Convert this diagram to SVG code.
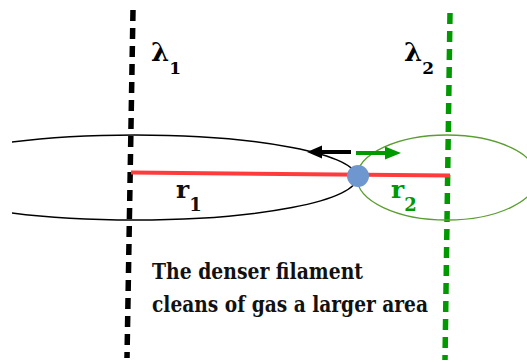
<svg xmlns="http://www.w3.org/2000/svg" width="527" height="362" viewBox="0 0 527 362">
<style>
.lbl{font-family:"DejaVu Serif","Liberation Serif",serif;font-weight:bold}
.cap{font-family:"DejaVu Serif","Liberation Serif",serif;font-weight:bold;font-size:22px;fill:#111}
</style>
<defs>
<clipPath id="cl"><rect x="12" y="0" width="515" height="362"/></clipPath>
</defs>
<rect width="527" height="362" fill="#fff"/>
<g id="filament1">
<line x1="133" y1="10" x2="127" y2="358" stroke="#000" stroke-width="5.5" stroke-dasharray="11 7"/>
<text class="lbl" x="151" y="61" font-size="26">λ<tspan font-size="17" dy="13">1</tspan></text>
</g>
<g id="filament2">
<line x1="450" y1="13" x2="445" y2="360" stroke="#009900" stroke-width="5.5" stroke-dasharray="11 7"/>
<text class="lbl" x="404" y="61" font-size="26">λ<tspan font-size="17" dy="13">2</tspan></text>
</g>
<g id="ellipse1">
<ellipse cx="135" cy="177.5" rx="222" ry="42.5" fill="none" stroke="#000" stroke-width="1.4" clip-path="url(#cl)"/>
</g>
<g id="ellipse2">
<ellipse cx="447" cy="177.5" rx="90" ry="42.5" fill="none" stroke="#5a9e2f" stroke-width="1.3"/>
</g>
<g id="connectors">
<line x1="131" y1="172.5" x2="450" y2="175.5" stroke="#ff3b3b" stroke-width="4"/>
<line x1="351" y1="152" x2="320" y2="152" stroke="#000" stroke-width="4"/>
<polygon points="307,152 322,145.5 322,158.5" fill="#000"/>
<line x1="356" y1="153" x2="387" y2="153" stroke="#009900" stroke-width="4"/>
<polygon points="401,153 385,146.5 385,159.5" fill="#009900"/>
</g>
<g id="particle">
<circle cx="358" cy="176" r="11" fill="#6f97cf"/>
</g>
<g id="r1">
<text class="lbl" x="176" y="198" font-size="25" fill="#111">r<tspan font-size="18" dy="13">1</tspan></text>
</g>
<g id="r2">
<text class="lbl" x="391" y="198" font-size="25" fill="#009900">r<tspan font-size="18" dy="13">2</tspan></text>
</g>
<g id="caption">
<text class="cap" x="152" y="278.5" textLength="211" lengthAdjust="spacingAndGlyphs">The denser filament</text>
<text class="cap" x="152" y="312" textLength="276" lengthAdjust="spacingAndGlyphs">cleans of gas a larger area</text>
</g>
</svg>
